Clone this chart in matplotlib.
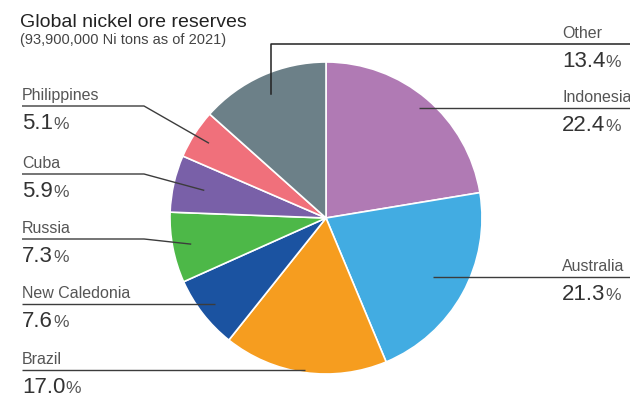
import numpy as np
import matplotlib.pyplot as plt

# nickel ore reserves by country, share of world total (%)
countries = ["Indonesia", "Australia", "Brazil", "New Caledonia",
             "Russia", "Cuba", "Philippines", "Other"]
shares = [22.4, 21.3, 17.0, 7.6, 7.3, 5.9, 5.1, 13.4]
colors = ["#B07AB4", "#42ACE2", "#F69D1F", "#1B53A1",
          "#4DB848", "#7960A8", "#F0707B", "#6C8088"]

title = "Global nickel ore reserves"
subtitle = "(93,900,000 Ni tons as of 2021)"

plt.rcParams["font.family"] = ["Liberation Sans", "DejaVu Sans"]

W, H = 630, 398
fig = plt.figure(figsize=(W / 100, H / 100), dpi=100)
ax = fig.add_axes([0, 0, 1, 1])

def top(y):
    # layout is measured from the top edge
    return H - y

cx, cy, R = 326, top(218), 156
wedges, _ = ax.pie(shares, colors=colors, startangle=90, counterclock=False,
                   center=(cx, cy), radius=R,
                   wedgeprops=dict(edgecolor="white", linewidth=1.2))
ax.set_xlim(0, W)
ax.set_ylim(0, H)
ax.set_aspect("equal")
ax.axis("off")

# label layout: (side, leader style, line y from top, radial fraction of anchor)
layout = {
    "Other":         ("right", "vertical", 44, 0.87),
    "Indonesia":     ("right", "flat", 108, None),
    "Australia":     ("right", "flat", 277, None),
    "Brazil":        ("left", "flat", 370, None),
    "New Caledonia": ("left", "flat", 304, None),
    "Russia":        ("left", "elbow", 239, 0.88),
    "Cuba":          ("left", "elbow", 174, 0.80),
    "Philippines":   ("left", "elbow", 106, 0.89),
}

line_kw = dict(color="#3c3c3c", lw=1.0, solid_capstyle="butt")
renderer = fig.canvas.get_renderer()

for name, share, w in zip(countries, shares, wedges):
    side, style, ly, frac = layout[name]
    mid = np.deg2rad((w.theta1 + w.theta2) / 2)
    ux, uy = np.cos(mid), np.sin(mid)
    yl = top(ly)

    if style == "flat":
        # anchor where the label line crosses the wedge's centre ray
        r = (yl - cy) / uy
        ax_, ay_ = cx + r * ux, yl
    else:
        ax_, ay_ = cx + frac * R * ux, cy + frac * R * uy

    if side == "left":
        tx = 22
        if style == "elbow":
            ax.plot([tx, 144, ax_], [yl, yl, ay_], **line_kw)
        else:
            ax.plot([tx, ax_], [yl, yl], **line_kw)
    else:
        tx = 562
        if style == "vertical":
            ax.plot([ax_, ax_, W], [ay_, yl, yl], color="#222222", lw=1.1)
        else:
            ax.plot([ax_, W], [yl, yl], **line_kw)

    ax.text(tx, yl + 6, name, fontsize=11.5, color="#555555", va="baseline", ha="left")
    num = ax.text(tx, yl - 23, f"{share:.1f}", fontsize=16, color="#333333",
                  va="baseline", ha="left")
    bb = num.get_window_extent(renderer)
    px = ax.transData.inverted().transform((bb.x1, 0))[0]
    ax.text(px + 0.5, yl - 23, "%", fontsize=12.5, color="#555555",
            va="baseline", ha="left")

ax.text(20, top(27), title, fontsize=14, color="#222222", va="baseline", ha="left")
ax.text(20, top(44), subtitle, fontsize=10.5, color="#444444", va="baseline", ha="left")

fig.savefig("out.png", dpi=100)
